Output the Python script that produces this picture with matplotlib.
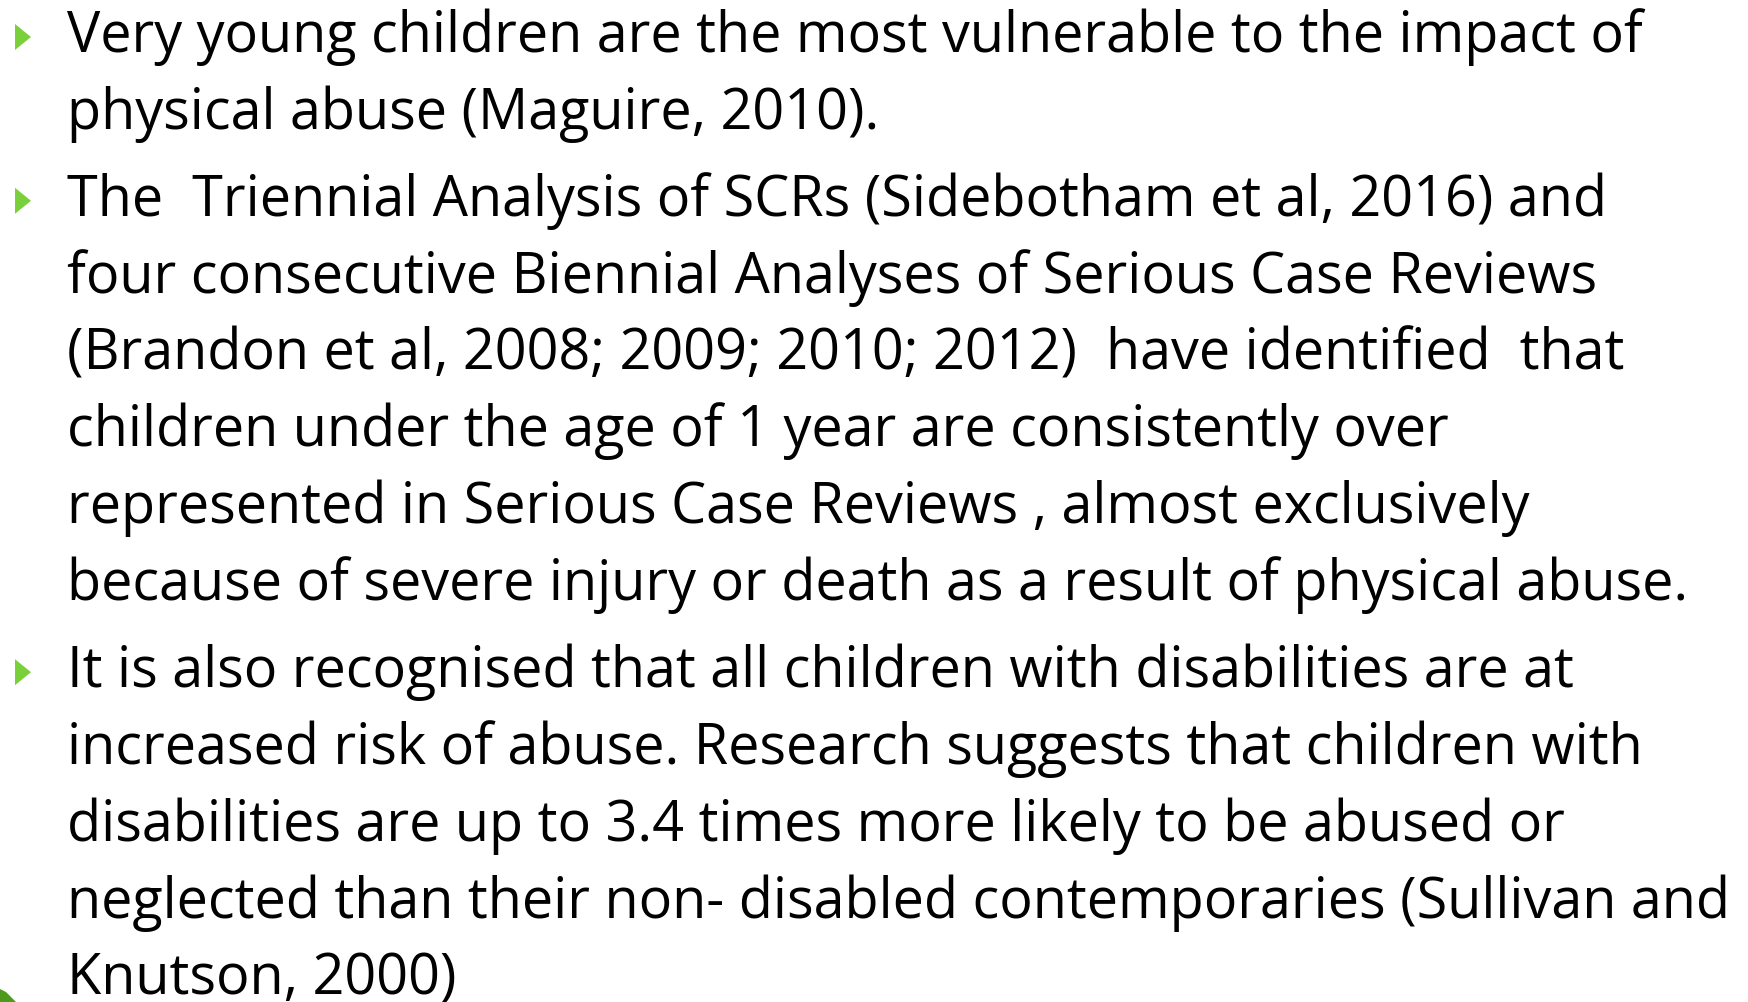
import matplotlib
matplotlib.use("Agg")
import matplotlib.pyplot as plt
from matplotlib.patches import Polygon

W, H = 1748, 1003
INK = "#000000"
BULLET = "#7AD03A"
FONT = ["Open Sans", "DejaVu Sans"]

# slide text: (paragraph index, line)
paragraphs = [
    ["Very young children are the most vulnerable to the impact of",
     "physical abuse (Maguire, 2010)."],
    ["The  Triennial Analysis of SCRs (Sidebotham et al, 2016) and",
     "four consecutive Biennial Analyses of Serious Case Reviews",
     "(Brandon et al, 2008; 2009; 2010; 2012)  have identified  that",
     "children under the age of 1 year are consistently over",
     "represented in Serious Case Reviews , almost exclusively",
     "because of severe injury or death as a result of physical abuse."],
    ["It is also recognised that all children with disabilities are at",
     "increased risk of abuse. Research suggests that children with",
     "disabilities are up to 3.4 times more likely to be abused or",
     "neglected than their non- disabled contemporaries (Sullivan and",
     "Knutson, 2000)"],
]
# right edges of each line in the reference (px)
ref_right = [1644, 886, 1608, 1592, 1644, 1446, 1522, 1678,
             1575, 1634, 1562, 1728, 457]

X0 = 67
BASE0 = 52
LEAD = 76.9
PGAP = 10

fig = plt.figure(figsize=(W / 100, H / 100), dpi=100)
ax = fig.add_axes([0, 0, 1, 1])
ax.set_xlim(0, W)
ax.set_ylim(H, 0)
ax.axis("off")

# fit font size to match the reference widths overall
probe = 40
r = fig.canvas.get_renderer()
tot_w = 0
all_lines = [l for p in paragraphs for l in p]
for l in all_lines:
    t = ax.text(0, 0, l, fontsize=probe, family=FONT)
    tot_w += t.get_window_extent(renderer=r).width
    t.remove()
ref_w = sum(rr - X0 for rr in ref_right)
fs = probe * ref_w / tot_w

y = BASE0
for pi, para in enumerate(paragraphs):
    if pi > 0:
        y += PGAP
    # bullet triangle
    cy = y - 14
    ax.add_patch(Polygon([[15, cy - 13], [15, cy + 13], [31, cy]],
                         closed=True, color=BULLET, lw=0))
    for line in para:
        ax.text(X0, y, line, fontsize=fs, family=FONT, color=INK,
                ha="left", va="baseline")
        y += LEAD

# corner decoration bottom-left
ax.add_patch(Polygon([[0, 990], [6, 993], [16, 1003], [0, 1003]],
                     closed=True, color="#4E9A1E", lw=0))

fig.savefig("out.png", dpi=100, facecolor="white")
